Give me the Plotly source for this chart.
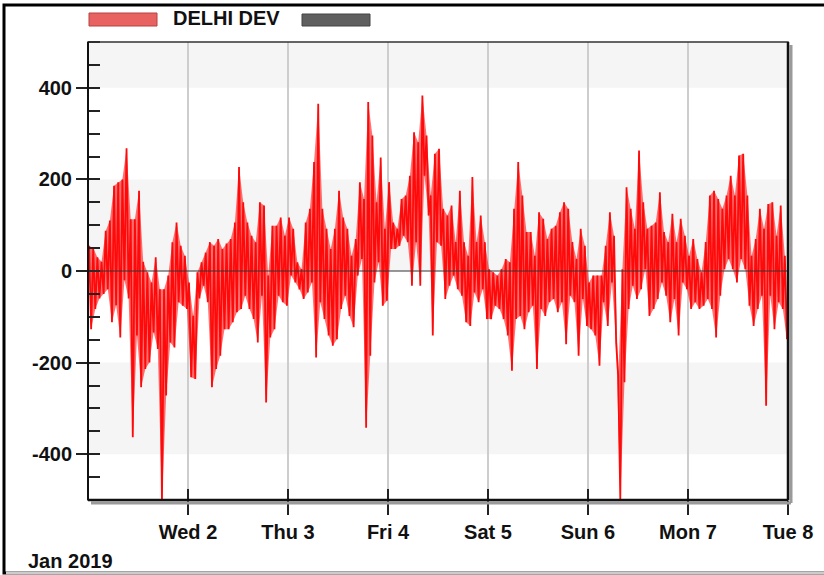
import plotly.graph_objects as go
import pandas as pd

# ---------------- data ----------------
START = "2019-01-01"
SERIES_NAME = "DELHI DEV"
HOURS = list(range(168))
HI = [55, 50, 30, 20, 88, 110, 186, 194, 200, 268, 113, 113, 175, 20, -3, -25, 30, -40, -40, -10,
      63, 106, 55, 33, -25, -98, -3, 19, 40, 63, 55, 70, 48, 60, 70, 106, 227, 150, 106, 77,
      63, 150, 143, -10, 99, 99, 117, 77, 117, 92, 19, 4, 106, 136, 238, 365, 136, 92, 48, 92,
      175, 117, 92, 33, 70, 194, 157, 369, 296, 150, 248, 92, 194, 106, 92, 157, 165, 208, 303, 281,
      383, 296, 165, 256, 267, 136, 121, 143, 63, 175, 63, 33, 205, 63, 121, 63, 4, -3, -10, 4,
      26, 19, 136, 238, 165, 85, 85, 33, 128, 114, 70, 92, 99, 128, 150, 136, 63, 26, 92, 55,
      -25, -10, -10, -10, 55, 128, 77, -229, 4, 183, 136, 92, 263, 150, 92, 99, 106, 172, 85, 63,
      125, 63, 114, 77, 33, 70, 26, -3, 63, 165, 175, 157, 136, 165, 208, 165, 252, 256, 165, 33,
      70, 136, 92, 146, 150, 77, 143, 33]
LO = [-127, -83, -60, -50, -40, -112, -75, -145, -20, -60, -363, -141, -254, -214, -200, -134, -170, -505, -272, -156,
      -167, -68, -76, -83, -232, -236, -60, -32, -68, -254, -214, -185, -127, -127, -112, -90, -83, -54, -83, -105,
      -156, -54, -287, -145, -127, -54, -68, -76, -10, -25, -40, -61, -47, -25, -189, -68, -105, -141, -163, -149,
      -83, -54, -98, -123, -10, 26, -342, -185, -25, 19, -76, -65, 48, 48, 55, 77, 63, -32, 63, -32,
      208, 121, -141, 63, 55, -61, -32, -10, -40, -54, -112, -120, -47, -68, -40, -105, -105, -76, -83, -105,
      -141, -218, -105, -98, -127, -90, -76, -214, -83, -98, -68, -61, -90, -68, -160, -54, -68, -185, -61, -120,
      -127, -141, -207, -68, -120, -25, -156, -498, -243, -83, -32, -61, -40, 4, -98, -83, -61, -25, -54, -112,
      -61, -141, -25, -40, -83, -68, -83, -76, -61, -83, -145, -54, 4, 26, 4, -25, 26, 4, -76, -120,
      -83, -54, -294, -54, -127, -68, -83, -149]
DAY_TICKS = ["2019-01-02", "2019-01-03", "2019-01-04", "2019-01-05",
             "2019-01-06", "2019-01-07", "2019-01-08"]
DAY_LABELS = ["Wed 2", "Thu 3", "Fri 4", "Sat 5", "Sun 6", "Mon 7", "Tue 8"]
Y_TICKS = [-400, -200, 0, 200, 400]
Y_LABELS = ["-400", "-200", "0", "200", "400"]
BANDS = [(400, 500), (0, 200), (-400, -200)]
X_RANGE = ["2019-01-01", "2019-01-08"]
Y_RANGE = [-500, 500]

# ---------------- build series ----------------
t0 = pd.Timestamp(START)
xs, ys = [], []
x_hi, x_lo = [], []
for h, a, b in zip(HOURS, HI, LO):
    th = t0 + pd.Timedelta(minutes=int(h * 60 + 15))
    tl = t0 + pd.Timedelta(minutes=int(h * 60 + 45))
    xs += [th, tl]
    ys += [a, b]
    x_hi.append(th)
    x_lo.append(tl)

FONT = "Liberation Sans, Arial, sans-serif"
W, H = 824, 575
L, R, T, B = 88, 36, 42, 75
PW, PH = W - L - R, H - T - B


def px(x):
    return (x - L) / PW


def py(y):
    return (H - B - y) / PH


fig = go.Figure()
# envelope body (dense part of the trace)
fig.add_trace(go.Scatter(x=x_lo, y=LO, mode="lines", line=dict(width=0, color="rgba(0,0,0,0)"),
                         showlegend=False, hoverinfo="skip"))
fig.add_trace(go.Scatter(x=x_hi, y=HI, mode="lines", line=dict(width=0, color="rgba(0,0,0,0)"),
                         fill="tonexty", fillcolor="rgba(255,20,20,0.6)",
                         showlegend=False, hoverinfo="skip"))
fig.add_trace(go.Scatter(x=xs, y=ys, mode="lines", name=SERIES_NAME,
                         line=dict(color="#ff0a0a", width=1.8), showlegend=False,
                         hoverinfo="x+y"))
# helper trace for overlay tick axes
fig.add_trace(go.Scatter(x=[DAY_TICKS[0]], y=[0], xaxis="x2", yaxis="y2", mode="markers",
                         marker=dict(opacity=0), showlegend=False, hoverinfo="skip"))

shapes = []
for a, b in BANDS:
    shapes.append(dict(type="rect", xref="paper", x0=0, x1=1, yref="y", y0=a, y1=b,
                       fillcolor="#f5f5f5", line=dict(width=0), layer="below"))
# zero line over the data
shapes.append(dict(type="line", xref="paper", x0=0, x1=1, yref="y", y0=0, y1=0,
                   line=dict(color="#333333", width=1), layer="above"))
# plot frame with shadow
shapes.append(dict(type="line", xref="paper", yref="paper", x0=px(791), x1=px(791),
                   y0=py(45), y1=py(503), line=dict(color="#9a9a9a", width=3)))
shapes.append(dict(type="line", xref="paper", yref="paper", x0=px(91), x1=px(791),
                   y0=py(503), y1=py(503), line=dict(color="#9a9a9a", width=3)))
shapes.append(dict(type="rect", xref="paper", yref="paper", x0=0, x1=1, y0=0, y1=1,
                   line=dict(color="#333333", width=1.5), layer="above"))
shapes.append(dict(type="line", xref="paper", yref="paper", x0=0, x1=1, y0=0, y1=0,
                   line=dict(color="#111111", width=2.5), layer="above"))
shapes.append(dict(type="line", xref="paper", yref="paper", x0=1, x1=1, y0=0, y1=1,
                   line=dict(color="#111111", width=2.5), layer="above"))
shapes.append(dict(type="line", xref="paper", yref="paper", x0=0, x1=0, y0=0, y1=1,
                   line=dict(color="#111111", width=2), layer="above"))
# outer border of the picture
shapes.append(dict(type="rect", xref="paper", yref="paper", x0=px(4), x1=px(840),
                   y0=py(573), y1=py(5), line=dict(color="#000000", width=3),
                   fillcolor="rgba(0,0,0,0)", layer="above"))
shapes.append(dict(type="line", xref="paper", yref="paper", x0=px(6), x1=px(824),
                   y0=py(573), y1=py(573), line=dict(color="#cccccc", width=3), layer="above"))
# legend swatches
shapes.append(dict(type="rect", xref="paper", yref="paper", x0=px(89), x1=px(157),
                   y0=py(26), y1=py(13), fillcolor="#e86262", line=dict(color="#b84040", width=1)))
shapes.append(dict(type="rect", xref="paper", yref="paper", x0=px(302), x1=px(370),
                   y0=py(26), y1=py(14), fillcolor="#5f5f5f", line=dict(color="#444444", width=1)))

annotations = [
    dict(text=SERIES_NAME, xref="paper", yref="paper", x=px(171), y=py(18), xanchor="left",
         yanchor="middle", showarrow=False,
         font=dict(family=FONT, size=20, color="#111111", weight="bold")),
    dict(text="Jan 2019", xref="paper", yref="paper", x=px(26), y=py(561), xanchor="left",
         yanchor="middle", showarrow=False,
         font=dict(family=FONT, size=20, color="#111111", weight="bold")),
]

tickfont = dict(family=FONT, size=20, color="#111111", weight="bold")

fig.update_layout(
    width=W, height=H,
    margin=dict(l=L, r=R, t=T, b=B, pad=0),
    plot_bgcolor="white", paper_bgcolor="white",
    showlegend=False,
    shapes=shapes, annotations=annotations,
    xaxis=dict(type="date", range=X_RANGE, tickvals=DAY_TICKS, ticktext=DAY_LABELS,
               ticks="outside", ticklen=14, tickwidth=2, tickcolor="#222222",
               showgrid=True, gridcolor="#cdcdcd", gridwidth=1.5,
               showline=False, zeroline=False, tickfont=tickfont, fixedrange=True),
    yaxis=dict(range=Y_RANGE, tickvals=Y_TICKS, ticktext=Y_LABELS, ticks="outside",
               ticklen=11, tickwidth=2,
               tickcolor="#222222", showgrid=False, zeroline=False, showline=False,
               tickfont=tickfont,
               minor=dict(ticks="inside", ticklen=12, tickwidth=2, tickcolor="#222222",
                          dtick=50, tick0=0, showgrid=False)),
    xaxis2=dict(type="date", overlaying="x", range=X_RANGE, tickvals=DAY_TICKS,
                ticks="inside", ticklen=11, tickwidth=2, tickcolor="#222222",
                showticklabels=False, showgrid=False, zeroline=False, showline=False,
                side="bottom"),
    yaxis2=dict(overlaying="y", range=Y_RANGE, tickvals=Y_TICKS, side="left",
                ticks="inside", ticklen=12, tickwidth=2, tickcolor="#222222",
                showticklabels=False, showgrid=False, zeroline=False, showline=False),
)

fig.write_html("out.html", config={"displayModeBar": False},
               post_script="document.body.style.margin='0px';document.body.style.overflow='hidden';")
